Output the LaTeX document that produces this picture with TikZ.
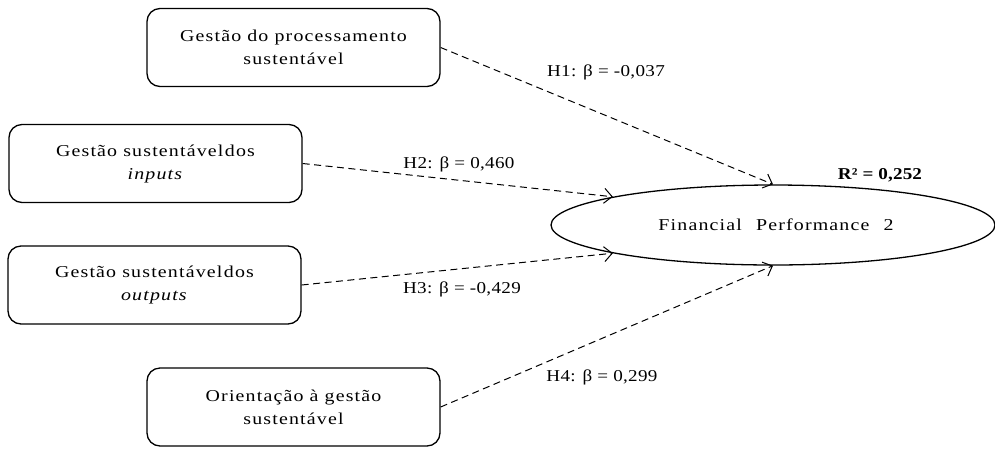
\documentclass[tikz,border=0pt]{standalone}
\usepackage{fontspec}
\setmainfont{Liberation Serif}
\newfontfamily\boxfont[FakeStretch=1.2,LetterSpace=7]{Liberation Serif}
\newfontfamily\labfont[FakeStretch=1.15,LetterSpace=2]{Liberation Serif}
\newfontfamily\boldlabfont[FakeStretch=1.15,LetterSpace=1]{Liberation Serif Bold}
\usetikzlibrary{arrows.meta,shapes.geometric}
\begin{document}
\begin{tikzpicture}[x=1pt,y=-1pt,
  construct/.style={draw,line width=1.3pt,rounded corners=13pt,
    minimum width=293pt,minimum height=78pt,inner sep=0pt,align=center,
    font=\boxfont\fontsize{16.6}{23}\selectfont},
  latent/.style={draw,line width=1.3pt,ellipse,minimum width=444pt,
    minimum height=80pt,inner sep=0pt,font=\boxfont\fontsize{16.6}{20}\selectfont},
  path/.style={line width=1pt,dash pattern=on 7pt off 4.5pt,
    -{Straight Barb[length=8pt,width=15pt,line width=1pt]}},
  coef/.style={font=\labfont\fontsize{16.6}{20}\selectfont,inner sep=0pt}]
  \useasboundingbox (0,0) rectangle (995,448);

  % exogenous constructs
  \node[construct] (b1) at (293.5,47.5) {Gestão do processamento\\sustentável};
  \node[construct] (b2) at (155.5,163.5) {Gestão sustentável\hspace{1.5pt}dos\\\textit{inputs}};
  \node[construct] (b3) at (154.5,285) {Gestão sustentável\hspace{1.5pt}dos\\\textit{outputs}};
  \node[construct] (b4) at (293.5,407) {Orientação à gestão\\sustentável};

  % endogenous construct
  \node[latent] (fp) at (773,225) {\hspace{6pt}Financial\hspace{8pt} Performance\hspace{8pt} 2};

  % structural paths
  \draw[path] (b1.east) -- (fp.north);
  \draw[path] (b2.east) -- (fp.170);
  \draw[path] (b3.east) -- (fp.190);
  \draw[path] (b4.east) -- (fp.south);

  % path coefficients
  \node[coef] (h1) at (606,72) {H1: β = -0,037};
  \node[coef] (h2) at (459,164) {H2: β = 0,460};
  \node[coef] (h3) at (462,289) {H3: β = -0,429};
  \node[coef] (h4) at (602,377) {H4: β = 0,299};
  \node[coef,font=\boldlabfont\fontsize{16.6}{20}\selectfont] (r2) at (880,175) {R² = 0,252};
\end{tikzpicture}
\end{document}
